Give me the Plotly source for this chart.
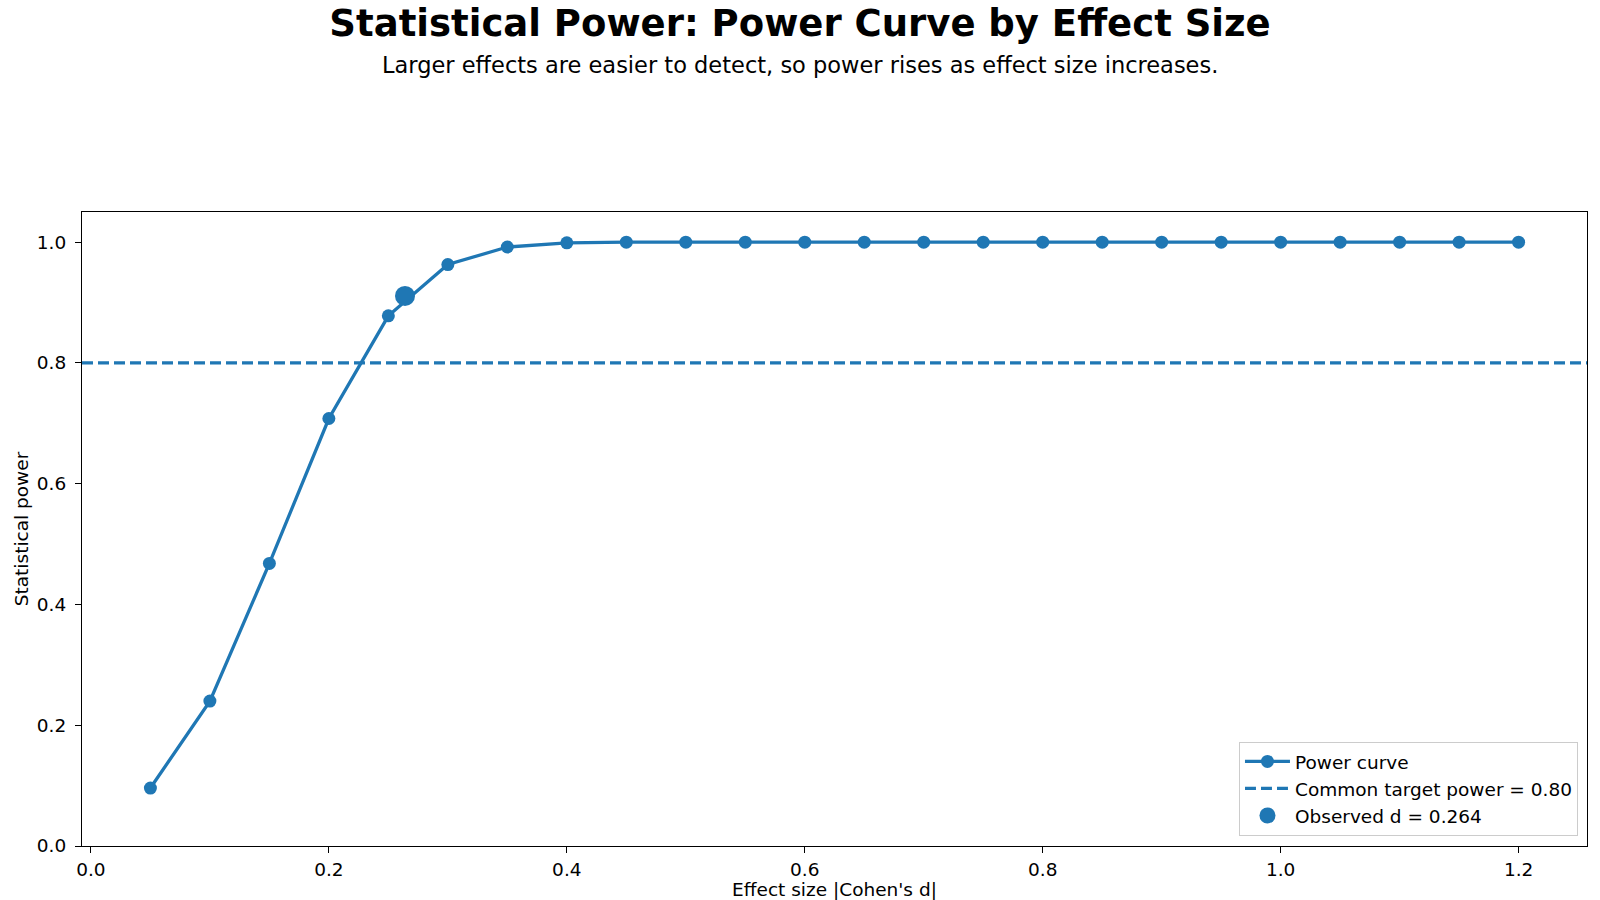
import plotly.graph_objects as go

effect_sizes = [0.05, 0.10, 0.15, 0.20, 0.25, 0.30, 0.35, 0.40, 0.45, 0.50, 0.55, 0.60,
                0.65, 0.70, 0.75, 0.80, 0.85, 0.90, 0.95, 1.00, 1.05, 1.10, 1.15, 1.20]
power_values = [0.096, 0.240, 0.468, 0.708, 0.878, 0.963, 0.992, 0.999, 1.0, 1.0, 1.0, 1.0,
                1.0, 1.0, 1.0, 1.0, 1.0, 1.0, 1.0, 1.0, 1.0, 1.0, 1.0, 1.0]
target_power = 0.80
observed_d = 0.264
observed_power = 0.911

x_ticks = [0.0, 0.2, 0.4, 0.6, 0.8, 1.0, 1.2]
y_ticks = [0.0, 0.2, 0.4, 0.6, 0.8, 1.0]

BLUE = "#1f77b4"
FONT = "DejaVu Sans"
FS = 18.5

ML, MR, MT, MB = 82, 13, 212, 54

fig = go.Figure()
fig.add_trace(go.Scatter(
    x=effect_sizes, y=power_values, mode="lines+markers", name="Power curve",
    line=dict(color=BLUE, width=3.3), marker=dict(color=BLUE, size=13)))
fig.add_trace(go.Scatter(
    x=[-0.0075, 1.2575], y=[target_power, target_power], mode="lines",
    name="Common target power = 0.80",
    line=dict(color=BLUE, width=3.3, dash="11px,5px")))
fig.add_trace(go.Scatter(
    x=[observed_d], y=[observed_power], mode="markers", name=f"Observed d = {observed_d:.3f}",
    marker=dict(color=BLUE, size=20)))

axis_common = dict(showgrid=False, zeroline=False, showline=True, linecolor="black",
                   linewidth=1.2, mirror=True, ticks="outside", ticklen=6, tickwidth=1.2,
                   tickcolor="black", automargin=False,
                   tickfont=dict(size=FS, color="black", family=FONT))

fig.update_xaxes(range=[-0.0075, 1.2575], tickvals=x_ticks,
                 ticktext=[f"{v:.1f}" for v in x_ticks], ticklabelstandoff=1,
                 title=dict(text="Effect size |Cohen's d|", font=dict(size=FS, color="black"),
                            standoff=6),
                 **axis_common)
fig.update_yaxes(range=[0, 1.05], tickvals=y_ticks,
                 ticktext=[f"{v:.1f}" for v in y_ticks], ticklabelstandoff=5,
                 title=dict(text="Statistical power", font=dict(size=FS, color="black"),
                            standoff=3),
                 **axis_common)

fig.update_layout(
    width=1600, height=900,
    paper_bgcolor="white", plot_bgcolor="white",
    font=dict(family=FONT, color="black"),
    margin=dict(l=ML, r=MR, t=MT, b=MB),
    title=dict(text="<b>Statistical Power: Power Curve by Effect Size</b>",
               x=0.5, xanchor="center", y=1 - 23 / 900, yanchor="middle", yref="container",
               font=dict(size=37, family=FONT, color="black")),
    annotations=[dict(text="Larger effects are easier to detect, so power rises as effect size increases.",
                      xref="paper", yref="paper",
                      x=(800 - ML) / (1600 - ML - MR),
                      y=(900 - MB - 65) / (900 - MT - MB),
                      xanchor="center", yanchor="middle", showarrow=False,
                      font=dict(size=22.5, family=FONT, color="black"))],
    legend=dict(x=0.994, y=0.016, xanchor="right", yanchor="bottom",
                bgcolor="rgba(255,255,255,0.8)", bordercolor="#cccccc", borderwidth=1,
                font=dict(size=FS, family=FONT, color="black"), itemwidth=45,
                tracegroupgap=0),
    showlegend=True,
)

fig.write_html("out.html")
